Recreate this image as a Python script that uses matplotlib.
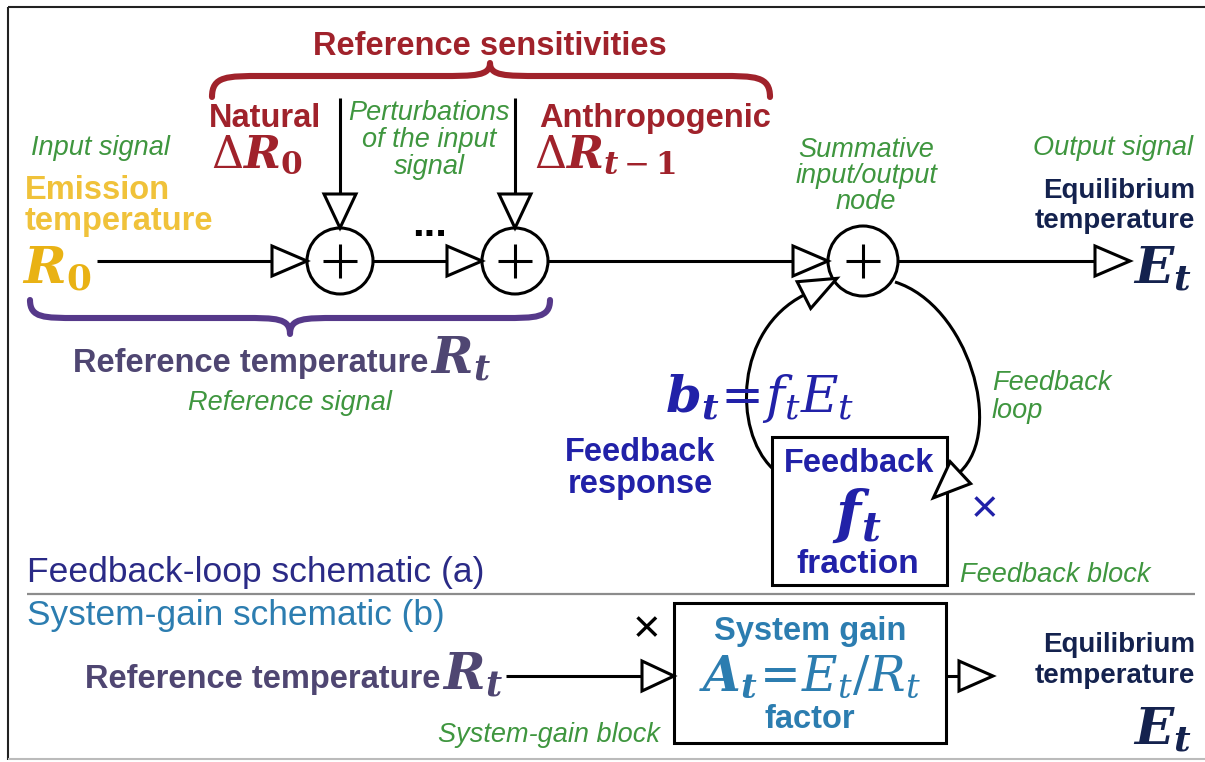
import numpy as np
import matplotlib
matplotlib.use("Agg")
import matplotlib.pyplot as plt
from matplotlib.patches import Circle, Rectangle, Polygon, PathPatch
from matplotlib.path import Path

plt.rcParams['mathtext.fontset'] = 'custom'
plt.rcParams['mathtext.rm'] = 'DejaVu Serif'
plt.rcParams['mathtext.it'] = 'DejaVu Serif:italic'
plt.rcParams['mathtext.bf'] = 'DejaVu Serif:bold'
plt.rcParams['mathtext.bfit'] = 'DejaVu Serif:italic:bold'

# ---------------- content ----------------
title_sens = "Reference sensitivities"
sens_kinds = ["Natural", "Anthropogenic"]
sens_symbols = [r"$\Delta\mathbfit{R}_{\mathbf{0}}$",
                r"$\Delta\mathbfit{R}_{\mathbfit{t}-\mathbf{1}}$"]
input_note = "Input signal"
input_name = ["Emission", "temperature"]
input_symbol = r"$\mathbfit{R}_{\mathbf{0}}$"
perturb_note = ["Perturbations", "of the input", "signal"]
node_note = ["Summative", "input/output", "node"]
output_note = "Output signal"
output_name = ["Equilibrium", "temperature"]
output_symbol = r"$\mathbfit{E}_{\mathbfit{t}}$"
ref_name = "Reference temperature"
ref_symbol = r"$\mathbfit{R}_{\mathbfit{t}}$"
ref_note = "Reference signal"
fb_eq = r"$\mathbfit{b}_{\mathbfit{t}}\!=\!f_{t}E_{t}$"
fb_resp = ["Feedback", "response"]
fb_loop_note = ["Feedback", "loop"]
fb_block = ["Feedback", r"$\mathbfit{f}_{\mathbfit{t}}$", "fraction"]
fb_block_note = "Feedback block"
panel_titles = ["Feedback-loop schematic (a)", "System-gain schematic (b)"]
gain_block = ["System gain", r"$\mathbfit{A}_{\mathbfit{t}}\!=\!E_{t}/R_{t}$", "factor"]
gain_block_note = "System-gain block"
times_sign = "\u00d7"

# ---------------- styles ----------------
RED = "#a0222b"
GREEN = "#3f963f"
GOLD = "#f0c23a"
GOLD_SYM = "#e9b214"
PURPLE = "#4f4672"
PURPLE_BRACE = "#56398a"
NAVY = "#14224e"
BLUE = "#2121a8"
PANEL_A = "#2a2a86"
TEAL = "#2c7db0"
BOLD = ["Liberation Sans", "DejaVu Sans"]
REG = ["Liberation Sans", "DejaVu Sans"]
LW = 2.2

fig = plt.figure(figsize=(12.05, 7.62), dpi=100)
ax = fig.add_axes([0, 0, 1, 1])
ax.set_xlim(0, 1205)
ax.set_ylim(762, 0)
ax.axis("off")


def T(x, y, s, size, color, family=BOLD, weight="bold", style="normal", ha="center", va="baseline"):
    ax.text(x, y, s, fontsize=size, color=color, family=family, weight=weight,
            style=style, ha=ha, va=va, zorder=6)


def G(x, y, s, ha="center"):
    T(x, y, s, 19.5, GREEN, family=REG, weight="normal", style="italic", ha=ha)


def M(x, y, s, size, color, ha="center", va="baseline"):
    ax.text(x, y, s, fontsize=size, color=color, ha=ha, va=va, zorder=6)


def arrowhead(tip, direction, L=35, W=30):
    d = np.asarray(direction, float)
    d = d / np.linalg.norm(d)
    n = np.array([-d[1], d[0]])
    tip = np.asarray(tip, float)
    base = tip - L * d
    ax.add_patch(Polygon([tip, base + n * W / 2, base - n * W / 2], closed=True,
                         fc="white", ec="black", lw=LW, zorder=5, joinstyle="miter"))


def line(x0, y0, x1, y1, color="black", lw=LW, z=3):
    ax.plot([x0, x1], [y0, y1], color=color, lw=lw, solid_capstyle="butt", zorder=z)


def sum_node(cx, cy, r):
    ax.add_patch(Circle((cx, cy), r, fc="white", ec="black", lw=LW, zorder=4))
    line(cx - 17, cy, cx + 17, cy, z=5)
    line(cx, cy - 17, cx, cy + 17, z=5)


def brace(x0, x1, xm, y_end, y_mid, y_tip, color, lw):
    k = 0.09 * (x1 - x0)
    verts = [(x0, y_end), (x0, y_mid), (x0 + k * 0.3, y_mid), (x0 + k, y_mid),
             (xm - k, y_mid),
             (xm - k * 0.3, y_mid), (xm, y_mid), (xm, y_tip),
             (xm, y_mid), (xm + k * 0.3, y_mid), (xm + k, y_mid),
             (x1 - k, y_mid),
             (x1 - k * 0.3, y_mid), (x1, y_mid), (x1, y_end)]
    codes = [Path.MOVETO, Path.CURVE4, Path.CURVE4, Path.CURVE4,
             Path.LINETO,
             Path.CURVE4, Path.CURVE4, Path.CURVE4,
             Path.CURVE4, Path.CURVE4, Path.CURVE4,
             Path.LINETO,
             Path.CURVE4, Path.CURVE4, Path.CURVE4]
    ax.add_patch(PathPatch(Path(verts, codes), fc="none", ec=color, lw=lw,
                           capstyle="round", joinstyle="round", zorder=3))


# ---------------- frame ----------------
line(8, 7, 1205, 7, color="#222222", lw=1.5)
line(8, 7, 8, 760, color="#222222", lw=1.5)
line(8, 759, 1205, 759, color="#bbbbbb", lw=1.5)

# ---------------- panel (a) ----------------
YM = 261
nodes = [(340, YM, 33), (515, YM, 33), (863, YM, 35)]
for cx, cy, r in nodes:
    sum_node(cx, cy, r)

# main signal path
line(97, YM, 290, YM)
arrowhead((nodes[0][0] - nodes[0][2], YM), (1, 0))
line(nodes[0][0] + nodes[0][2], YM, 460, YM)
arrowhead((nodes[1][0] - nodes[1][2], YM), (1, 0))
line(nodes[1][0] + nodes[1][2], YM, 810, YM)
arrowhead((nodes[2][0] - nodes[2][2], YM), (1, 0))
line(nodes[2][0] + nodes[2][2], YM, 1100, YM)
arrowhead((1130, YM), (1, 0))

# perturbation inputs
for cx, cy, r in nodes[:2]:
    line(cx, 98, cx, 200)
    arrowhead((cx, cy - r), (0, 1), L=34, W=32)
T(430, 236, "...", 30, "black")

# feedback loop (right and left arcs)
right = Path([(895, 282), (968, 305), (1005, 430), (960, 472)],
             [Path.MOVETO, Path.CURVE4, Path.CURVE4, Path.CURVE4])
left = Path([(772, 468), (733, 430), (735, 330), (804, 295)],
            [Path.MOVETO, Path.CURVE4, Path.CURVE4, Path.CURVE4])
for p in (right, left):
    ax.add_patch(PathPatch(p, fc="none", ec="black", lw=LW, zorder=3))
arrowhead((960 - 0.72 * 37, 472 + 0.70 * 37), (-45, 42), L=37, W=30)
arrowhead((804 + 0.89 * 37, 295 - 0.45 * 37), (69, -35), L=37, W=30)

# feedback block
ax.add_patch(Rectangle((772, 437), 175, 148, fc="white", ec="black", lw=LW, zorder=2))
T(859, 472, fb_block[0], 23.5, BLUE)
M(857, 532, fb_block[1], 42, BLUE)
T(858, 573, fb_block[2], 24, BLUE)
T(985, 522, times_sign, 34, BLUE, family=REG, weight="normal")

# braces
brace(212, 770, 490, 97, 76, 63, RED, 4.4)
brace(30, 550, 290, 300, 318, 334, PURPLE_BRACE, 4.4)

# labels panel (a)
T(490, 55, title_sens, 23.5, RED)
T(265, 127, sens_kinds[0], 23.5, RED)
T(655, 127, sens_kinds[1], 23.5, RED)
M(211, 168, sens_symbols[0], 32, RED, ha="left")
M(534, 168, sens_symbols[1], 32, RED, ha="left")

G(100, 155, input_note)
T(25, 199, input_name[0], 23.5, GOLD, ha="left")
T(25, 230, input_name[1], 23.5, GOLD, ha="left")
M(22, 284, input_symbol, 37, GOLD_SYM, ha="left")

for i, s in enumerate(perturb_note):
    G(429, 120 + 27 * i, s)
for i, s in enumerate(node_note):
    G(866, 157 + 26 * i, s)

G(1113, 155, output_note)
T(1195, 198, output_name[0], 20, NAVY, ha="right")
T(1195, 228, output_name[1], 20, NAVY, ha="right")
M(1133, 284, output_symbol, 37, NAVY, ha="left")

T(428, 372, ref_name, 23.5, PURPLE, ha="right")
M(430, 374, ref_symbol, 36, PURPLE, ha="left")
G(290, 410, ref_note)

M(665, 412, fb_eq, 37, BLUE, ha="left")
T(640, 461, fb_resp[0], 23.5, BLUE)
T(640, 493, fb_resp[1], 23.5, BLUE)
G(992, 390, fb_loop_note[0], ha="left")
G(992, 418, fb_loop_note[1], ha="left")
G(1055, 582, fb_block_note)

T(27, 582, panel_titles[0], 25.5, PANEL_A, family=REG, weight="normal", ha="left")
line(27, 594, 1195, 594, color="#8c8c8c", lw=1.6)
T(27, 625, panel_titles[1], 25.4, TEAL, family=REG, weight="normal", ha="left")

# ---------------- panel (b) ----------------
YB = 676
T(440, 688, ref_name, 23.5, PURPLE, ha="right")
M(442, 690, ref_symbol, 36, PURPLE, ha="left")
line(506, YB, 645, YB)
arrowhead((674, YB), (1, 0), L=32, W=30)
T(647, 642, times_sign, 34, "black", family=REG, weight="normal")
G(549, 742, gain_block_note)

ax.add_patch(Rectangle((674, 603), 272, 140, fc="white", ec="black", lw=LW, zorder=2))
T(810, 640, gain_block[0], 23.5, TEAL)
M(810, 690, gain_block[1], 35, TEAL)
T(810, 728, gain_block[2], 23.5, TEAL)

line(946, YB, 960, YB)
arrowhead((993, YB), (1, 0), L=34, W=30)
T(1195, 652, output_name[0], 20, NAVY, ha="right")
T(1195, 683, output_name[1], 20, NAVY, ha="right")
M(1133, 745, output_symbol, 37, NAVY, ha="left")

fig.savefig("out.png", dpi=100, facecolor="white")
